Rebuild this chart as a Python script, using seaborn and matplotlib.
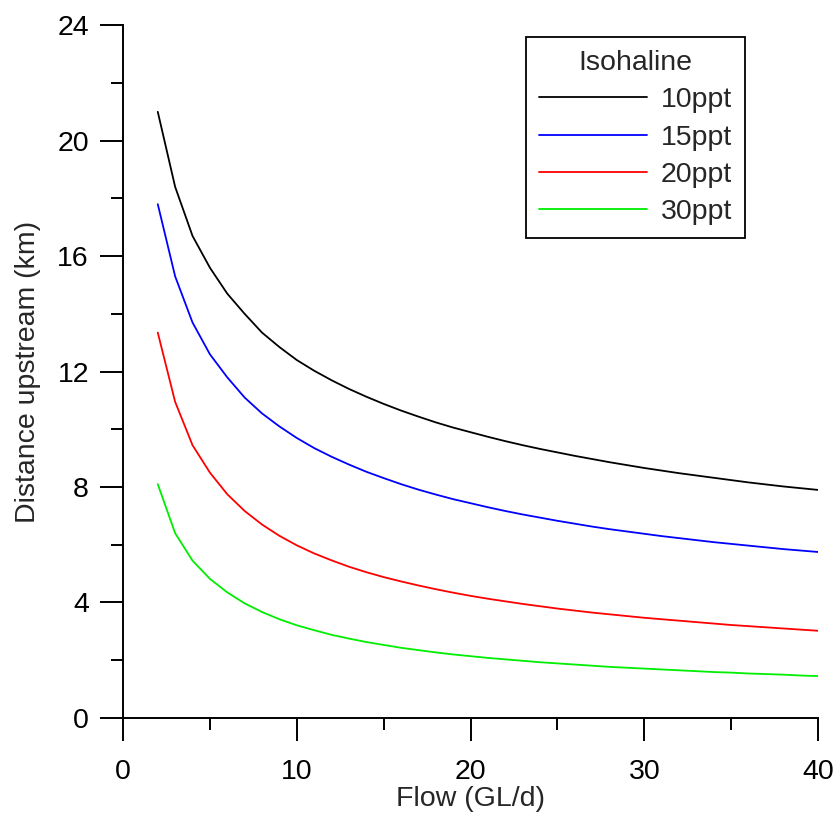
import matplotlib
matplotlib.use("Agg")
import matplotlib.pyplot as plt
import seaborn as sns
import pandas as pd
from matplotlib.ticker import MultipleLocator

flow = list(range(2, 41))
iso_10 = [21.0, 18.4, 16.7, 15.6, 14.7, 14.0, 13.35, 12.85, 12.4, 12.03, 11.7, 11.4, 11.13, 10.88,
          10.65, 10.44, 10.24, 10.06, 9.9, 9.74, 9.59, 9.45, 9.32, 9.2, 9.08, 8.97, 8.86, 8.76,
          8.66, 8.57, 8.48, 8.4, 8.32, 8.24, 8.16, 8.09, 8.02, 7.96, 7.9]
iso_15 = [17.8, 15.3, 13.7, 12.6, 11.8, 11.1, 10.55, 10.1, 9.7, 9.35, 9.05, 8.78, 8.53, 8.31,
          8.1, 7.91, 7.74, 7.58, 7.44, 7.3, 7.17, 7.05, 6.94, 6.83, 6.73, 6.63, 6.54, 6.46,
          6.38, 6.3, 6.23, 6.16, 6.09, 6.03, 5.97, 5.91, 5.85, 5.8, 5.75]
iso_20 = [13.35, 10.95, 9.45, 8.5, 7.75, 7.17, 6.7, 6.31, 5.98, 5.7, 5.46, 5.24, 5.05, 4.88,
          4.73, 4.59, 4.46, 4.34, 4.23, 4.13, 4.04, 3.95, 3.87, 3.79, 3.72, 3.65, 3.59, 3.53,
          3.47, 3.42, 3.37, 3.32, 3.27, 3.22, 3.18, 3.14, 3.1, 3.06, 3.02]
iso_30 = [8.1, 6.4, 5.45, 4.82, 4.35, 3.97, 3.67, 3.42, 3.21, 3.04, 2.88, 2.75, 2.63, 2.53,
          2.43, 2.35, 2.27, 2.2, 2.14, 2.08, 2.03, 1.98, 1.93, 1.89, 1.85, 1.81, 1.77, 1.74,
          1.71, 1.68, 1.65, 1.62, 1.59, 1.57, 1.54, 1.52, 1.5, 1.47, 1.45]
labels = ["10ppt", "15ppt", "20ppt", "30ppt"]
colors = ["#000000", "#0000ff", "#ff0000", "#00ee00"]

rows = []
for lab, vals in zip(labels, [iso_10, iso_15, iso_20, iso_30]):
    for f, v in zip(flow, vals):
        rows.append({"Flow": f, "Distance": v, "Isohaline": lab})
df = pd.DataFrame(rows)

sns.set_style("ticks")
plt.rcParams['font.family'] = ['Liberation Sans', 'DejaVu Sans']
FS = 20.5

fig = plt.figure(figsize=(8.34, 8.14), dpi=100)
ax = fig.add_axes([0.1475, 0.118, 0.8335, 0.851])
sns.lineplot(data=df, x="Flow", y="Distance", hue="Isohaline", hue_order=labels,
             palette=dict(zip(labels, colors)), linewidth=1.3, ax=ax)

ax.set_xlim(0, 40)
ax.set_ylim(0, 24)
ax.xaxis.set_major_locator(MultipleLocator(10))
ax.xaxis.set_minor_locator(MultipleLocator(5))
ax.yaxis.set_major_locator(MultipleLocator(4))
ax.yaxis.set_minor_locator(MultipleLocator(2))
ax.tick_params(which='major', direction='out', length=16.5, width=1.4, labelsize=FS,
               color='black', labelcolor='black')
ax.tick_params(which='minor', direction='out', length=8.5, width=1.4, color='black')
ax.tick_params(axis='x', which='major', pad=13)
ax.tick_params(axis='y', which='major', pad=8)
for s in ['top', 'right']:
    ax.spines[s].set_visible(False)
for s in ['left', 'bottom']:
    ax.spines[s].set_linewidth(1.4)
    ax.spines[s].set_color('black')

ax.set_xlabel("Flow (GL/d)", fontsize=FS, labelpad=1)
ax.set_ylabel("Distance upstream (km)", fontsize=FS, labelpad=12)

leg = ax.legend(title="Isohaline", loc='upper right', bbox_to_anchor=(0.895, 0.983),
                borderaxespad=0, fontsize=FS, title_fontsize=FS, handlelength=3.8,
                frameon=True, fancybox=False, edgecolor='black', framealpha=1,
                borderpad=0.45, labelspacing=0.4, handletextpad=0.5)
leg.get_frame().set_linewidth(1.3)

fig.savefig("out.png", dpi=100)
